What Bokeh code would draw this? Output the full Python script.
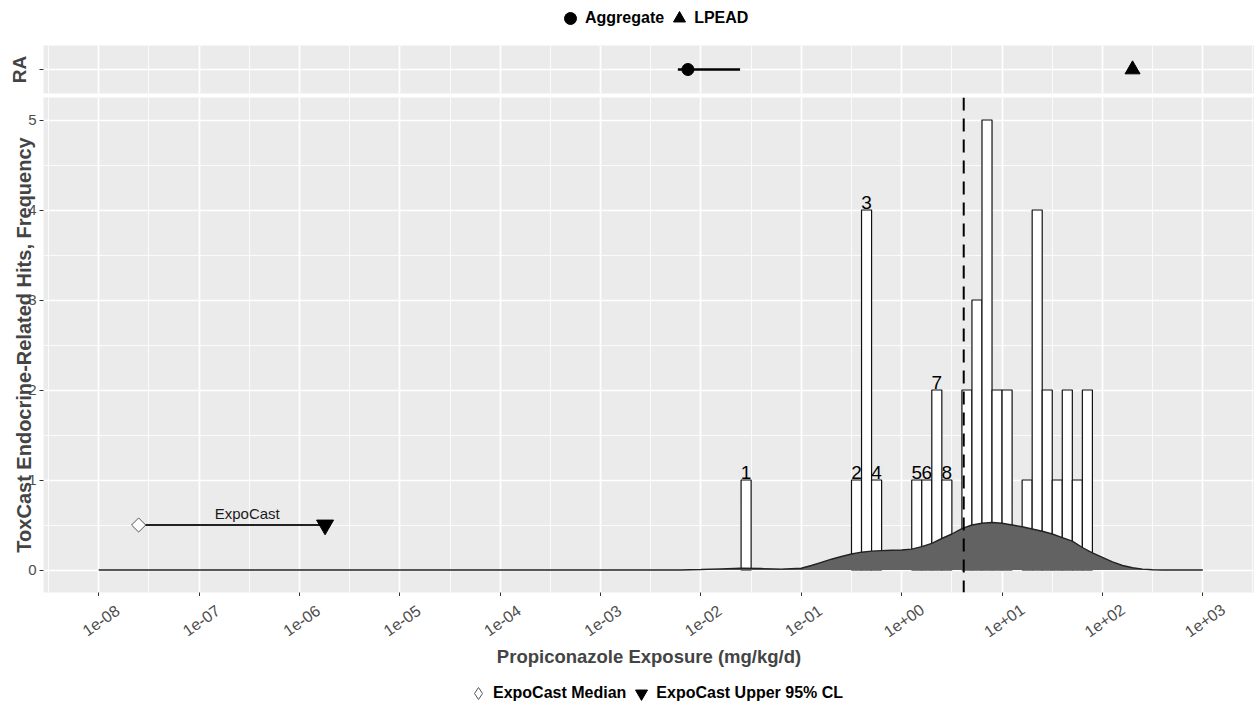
import numpy as np
from bokeh.plotting import figure
from bokeh.layouts import column
from bokeh.models import (ColumnDataSource, FixedTicker, Range1d, Legend, LegendItem,
                          Span, CustomJSTickFormatter)
from bokeh.embed import file_html
from bokeh.resources import INLINE
from bokeh.core.properties import value

FONT = "Liberation Sans"

# ---------------- data ----------------
bin_left_log10 = [-1.6, -0.5, -0.4, -0.3, 0.1, 0.2, 0.3, 0.4, 0.6, 0.7, 0.8, 0.9, 1.0,
                  1.2, 1.3, 1.4, 1.5, 1.6, 1.7, 1.8]
bin_width_log10 = 0.1
hit_counts = [1, 1, 4, 1, 1, 1, 2, 1, 2, 3, 5, 2, 2, 1, 4, 2, 1, 2, 1, 2]
bar_labels = ["1", "2", "3", "4", "5", "6", "7", "8"] + [""] * 12

density_log10 = [-8.0, -2.2, -2.0, -1.8, -1.6, -1.4, -1.2, -1.0, -0.9, -0.8, -0.7, -0.6,
                 -0.5, -0.4, -0.3, -0.2, -0.1, 0.0, 0.1, 0.2, 0.3, 0.4, 0.5, 0.6, 0.7,
                 0.8, 0.9, 1.0, 1.1, 1.2, 1.3, 1.4, 1.5, 1.6, 1.7, 1.8, 1.9, 2.0, 2.1,
                 2.2, 2.3, 2.4, 2.5, 2.6, 3.0]
density_value = [0, 0, 0.005, 0.012, 0.02, 0.016, 0.01, 0.02, 0.05, 0.085, 0.12, 0.15,
                 0.178, 0.198, 0.21, 0.215, 0.22, 0.222, 0.232, 0.26, 0.295, 0.35, 0.40,
                 0.46, 0.50, 0.52, 0.527, 0.52, 0.50, 0.48, 0.455, 0.43, 0.40, 0.36,
                 0.32, 0.25, 0.19, 0.14, 0.09, 0.05, 0.025, 0.01, 0.003, 0, 0]

aggregate_point = 10 ** -2.13
aggregate_low = 10 ** -2.23
aggregate_high = 10 ** -1.61
lpead_value = 10 ** 2.3

expocast_median = 2.5e-8
expocast_upper = 1.8e-6
expocast_level = 0.5
expocast_text_x = 10 ** -6.52
expocast_text_y = 0.63

dashed_exposure = 4.15

tick_exponents = list(range(-8, 4))
tick_labels = ["1e-08", "1e-07", "1e-06", "1e-05", "1e-04", "1e-03", "1e-02", "1e-01",
               "1e+00", "1e+01", "1e+02", "1e+03"]

# ---------------- helpers ----------------
W = 1254
LEFT = 43
BG = "#EBEBEB"
LABEL_GAP = 0.08  # vertical gap between bar top and its number, in count units
tick_vals = [10.0 ** k for k in tick_exponents]
minor_vals = [10.0 ** (k + 0.5) for k in range(-9, 4)]
xr = Range1d(10 ** -8.55, 10 ** 3.515)


def base_style(p):
    p.background_fill_color = BG
    p.border_fill_color = "white"
    p.outline_line_color = None
    p.xgrid.ticker = FixedTicker(ticks=tick_vals, minor_ticks=minor_vals)
    p.xgrid.grid_line_color = "white"
    p.xgrid.grid_line_width = 1.7
    p.xgrid.minor_grid_line_color = "white"
    p.xgrid.minor_grid_line_width = 0.8


def blank_fig(height):
    f = figure(width=W, height=height, x_range=Range1d(0, 1), y_range=Range1d(0, 1),
               x_axis_location=None, y_axis_location=None, output_backend="svg",
               toolbar_location=None, min_border_left=LEFT, min_border_right=0,
               min_border_top=0, min_border_bottom=0)
    f.grid.visible = False
    f.outline_line_color = None
    f.background_fill_color = "white"
    return f


def make_legend(items, loc, spacing):
    return Legend(items=items, orientation="horizontal", location=loc,
                  glyph_width=30, glyph_height=30, label_standoff=-1, spacing=spacing,
                  padding=0, margin=0, border_line_color=None, background_fill_alpha=0,
                  label_text_font=FONT, label_text_font_style="bold",
                  label_text_font_size="16px", label_text_color="black")


# ---------------- top legend ----------------
lt = blank_fig(36)
lt_r1 = lt.scatter(x=[0.5], y=[5], marker="circle", fill_color="black", line_color="black")
lt_r2 = lt.scatter(x=[0.5], y=[5], marker="triangle", fill_color="black", line_color="black")
lt.add_layout(make_legend([LegendItem(label="Aggregate", renderers=[lt_r1]),
                           LegendItem(label="LPEAD", renderers=[lt_r2])],
                          (512, 3), -3), "center")

# ---------------- RA panel ----------------
ra = figure(width=W, height=59, x_range=xr, y_range=Range1d(0.4, 1.6), x_axis_type="log",
            x_axis_location=None, output_backend="svg", toolbar_location=None,
            min_border_left=LEFT, min_border_right=0, min_border_top=9, min_border_bottom=2)
base_style(ra)
ra.yaxis.ticker = FixedTicker(ticks=[1])
ra.yaxis.formatter = CustomJSTickFormatter(code="return ''")
ra.yaxis.axis_line_color = None
ra.yaxis.major_tick_line_color = "#333333"
ra.yaxis.major_tick_out = 4
ra.yaxis.major_tick_in = 0
ra.yaxis.minor_tick_line_color = None
ra.yaxis.major_label_standoff = 0
ra.yaxis.axis_label = "RA"
ra.yaxis.axis_label_text_font = FONT
ra.yaxis.axis_label_text_font_style = "bold"
ra.yaxis.axis_label_text_font_size = "19px"
ra.yaxis.axis_label_standoff = 10
ra.ygrid.ticker = FixedTicker(ticks=[1])
ra.ygrid.grid_line_color = "white"
ra.ygrid.grid_line_width = 1.7
ra.ygrid.minor_grid_line_color = None

agg_src = ColumnDataSource(dict(x=[aggregate_point], lo=[aggregate_low],
                                hi=[aggregate_high], y=[1]))
ra.segment(x0="lo", y0="y", x1="hi", y1="y", source=agg_src, line_color="black",
           line_width=2.5)
ra.scatter(x="x", y="y", source=agg_src, marker="circle", size=12, fill_color="black",
           line_color="black")
ra.scatter(x=[lpead_value], y=[1], marker="triangle", size=15, fill_color="black",
           line_color="black")

# ---------------- main panel ----------------
main = figure(width=W, height=501, x_range=xr, y_range=Range1d(-0.25, 5.25),
              x_axis_type="log", output_backend="svg", toolbar_location=None,
              min_border_left=LEFT, min_border_right=0, min_border_top=2,
              min_border_bottom=4)
base_style(main)
main.ygrid.ticker = FixedTicker(ticks=[0, 1, 2, 3, 4, 5],
                                minor_ticks=[0.5, 1.5, 2.5, 3.5, 4.5])
main.ygrid.grid_line_color = "white"
main.ygrid.grid_line_width = 1.7
main.ygrid.minor_grid_line_color = "white"
main.ygrid.minor_grid_line_width = 0.8

main.yaxis.ticker = FixedTicker(ticks=[0, 1, 2, 3, 4, 5])
main.yaxis.axis_line_color = None
main.yaxis.major_tick_line_color = "#333333"
main.yaxis.major_tick_out = 4
main.yaxis.major_tick_in = 0
main.yaxis.minor_tick_line_color = None
main.yaxis.major_label_standoff = 3
main.yaxis.major_label_text_font = FONT
main.yaxis.major_label_text_font_size = "15px"
main.yaxis.major_label_text_color = "#4D4D4D"
main.yaxis.axis_label = "ToxCast Endocrine-Related Hits, Frequency"
main.yaxis.axis_label_text_font = FONT
main.yaxis.axis_label_text_font_style = "bold"
main.yaxis.axis_label_text_font_size = "20px"
main.yaxis.axis_label_standoff = -10

main.xaxis.ticker = FixedTicker(ticks=tick_vals)
main.xaxis.formatter = CustomJSTickFormatter(code="return ''")
main.xaxis.axis_line_color = None
main.xaxis.major_tick_line_color = "#333333"
main.xaxis.major_tick_out = 4
main.xaxis.major_tick_in = 0
main.xaxis.minor_tick_line_color = None
main.xaxis.major_label_standoff = 0

left = np.array(bin_left_log10)
counts = np.array(hit_counts, dtype=float)
bar_src = ColumnDataSource(dict(
    left=10 ** left, right=10 ** (left + bin_width_log10),
    center=10 ** (left + bin_width_log10 / 2), top=counts,
    label_y=counts + LABEL_GAP, lab=bar_labels))
main.quad(left="left", right="right", bottom=0, top="top", source=bar_src,
          fill_color="white", line_color="#111111", line_width=1.2)

dens_src = ColumnDataSource(dict(x=10 ** np.array(density_log10), y=density_value))
main.varea(x="x", y1=0, y2="y", source=dens_src, fill_color="#626262")
main.line(x="x", y="y", source=dens_src, line_color="#222222", line_width=1.4)

main.text(x="center", y="label_y", text="lab", source=bar_src, text_align="center",
          text_baseline="alphabetic", text_font=value(FONT),
          text_font_size="19px", text_color="black")

expo_src = ColumnDataSource(dict(lo=[expocast_median], hi=[expocast_upper],
                                 y=[expocast_level]))
main.segment(x0="lo", y0="y", x1="hi", y1="y", source=expo_src, line_color="#222222",
             line_width=2)
main.scatter(x="lo", y="y", source=expo_src, marker="square", angle=np.pi / 4, size=10,
             fill_color="white", line_color="#555555", line_width=1)
main.scatter(x="hi", y="y", source=expo_src, marker="inverted_triangle", size=17,
             fill_color="black", line_color="black")
main.text(x=[expocast_text_x], y=[expocast_text_y], text=["ExpoCast"],
          text_align="center", text_baseline="middle", text_font=value(FONT),
          text_font_size="15px", text_color="#1a1a1a")

main.add_layout(Span(location=dashed_exposure, dimension="height", line_color="black",
                     line_width=2, line_dash="13 8"))

# ---------------- x tick labels + x title strip ----------------
strip = figure(width=W, height=79, x_range=xr, y_range=Range1d(0, 1), x_axis_type="log",
               y_axis_location=None, output_backend="svg", toolbar_location=None,
               min_border_left=LEFT, min_border_right=0, min_border_top=0,
               min_border_bottom=35)
strip.grid.visible = False
strip.outline_line_color = None
strip.background_fill_color = "white"
strip.xaxis.ticker = FixedTicker(ticks=tick_vals)
strip.xaxis.formatter = CustomJSTickFormatter(code="return ''")
strip.xaxis.axis_line_color = None
strip.xaxis.major_tick_line_color = None
strip.xaxis.major_tick_out = 0
strip.xaxis.major_tick_in = 0
strip.xaxis.minor_tick_line_color = None
strip.xaxis.major_label_standoff = 0
strip.xaxis.axis_label = "Propiconazole Exposure (mg/kg/d)"
strip.xaxis.axis_label_text_font = FONT
strip.xaxis.axis_label_text_font_style = "bold"
strip.xaxis.axis_label_text_font_size = "18.5px"
strip.xaxis.axis_label_standoff = 5

tick_src = ColumnDataSource(dict(x=tick_vals, y=[0.46] * len(tick_vals), lab=tick_labels))
strip.text(x="x", y="y", text="lab", source=tick_src, angle=35, angle_units="deg",
           x_offset=2, text_align="center", text_baseline="middle",
           text_font=value(FONT), text_font_size="16px", text_color="#4D4D4D")

# ---------------- bottom legend ----------------
lb = blank_fig(29)
lb_r1 = lb.scatter(x=[0.5], y=[5], marker="diamond", fill_color="white",
                   line_color="#555555")
lb_r2 = lb.scatter(x=[0.5], y=[5], marker="inverted_triangle", fill_color="black",
                   line_color="black")
lb.add_layout(make_legend([LegendItem(label="ExpoCast Median", renderers=[lb_r1]),
                           LegendItem(label="ExpoCast Upper 95% CL", renderers=[lb_r2])],
                          (420, -4), -1), "center")

layout = column(lt, ra, main, strip, lb, spacing=0)
open("out.html", "w").write(file_html(layout, INLINE))
